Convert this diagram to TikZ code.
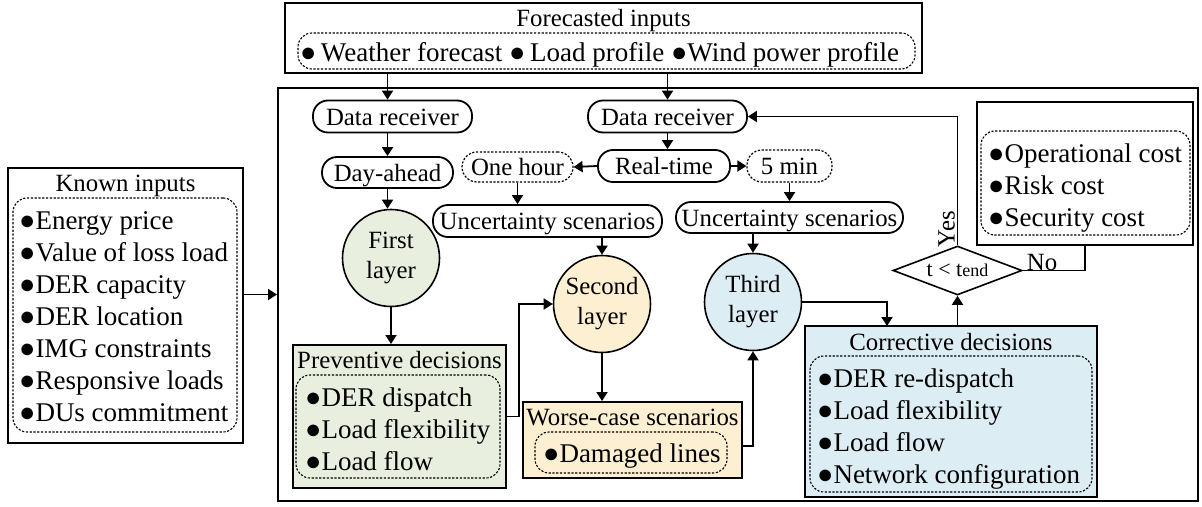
\documentclass[tikz,border=0pt]{standalone}
\usepackage{fontspec}
\setmainfont{Liberation Serif}
\usetikzlibrary{arrows.meta,shapes.geometric,calc}

\definecolor{greenfill}{RGB}{233,239,223}
\definecolor{yellowfill}{RGB}{253,240,210}
\definecolor{bluefill}{RGB}{220,237,244}

\tikzset{
  lbl/.style={font=\fontsize{24.8}{30}\selectfont, inner sep=0pt, text height=17pt, text depth=0pt},
  itm/.style={font=\fontsize{27}{32}\selectfont, inner sep=0pt, anchor=west, text height=18.5pt, text depth=0pt},
  frame/.style 2 args={draw, line width=2pt, rectangle, minimum width=#1, minimum height=#2, inner sep=0pt},
  dotbox/.style 2 args={draw, line width=1.1pt, dash pattern=on 2.2pt off 1.6pt, rounded corners=14pt,
    rectangle, minimum width=#1, minimum height=#2, inner sep=0pt},
  pill/.style={draw, line width=1.8pt, rectangle, rounded corners=15pt, minimum height=32pt, inner sep=0pt,
    font=\fontsize{24.8}{30}\selectfont, text height=17pt, text depth=0pt},
  dpill/.style={pill, line width=1.2pt, dash pattern=on 2.2pt off 1.6pt},
  layer/.style={circle, draw, line width=1.6pt, minimum size=97pt, inner sep=0pt, align=center,
    font=\fontsize{24.8}{30}\selectfont},
  arr/.style={line width=1.8pt, -{Triangle[length=9pt,width=11pt]}},
  link/.style={line width=1.8pt},
}

\begin{document}
\begin{tikzpicture}[x=1pt,y=-1pt]
\useasboundingbox (0,0) rectangle (1202,506);
\fill[white] (0,0) rectangle (1202,506);

% ---------- forecasted inputs ----------
\node[frame={637pt}{70pt}] (fc) at (603.5,38) {};
\node[lbl] (fctitle) at (603.5,18) {Forecasted inputs};
\node[dotbox={617pt}{36pt}] (fclist) at (606.5,51) {};
\node[itm] (fcitems) at (300,52) {●\,Weather forecast ●\,Load profile ●Wind power profile};

% ---------- main frame ----------
\node[frame={920pt}{413pt}] (main) at (738,294.5) {};

% ---------- known inputs ----------
\node[frame={235pt}{275pt}] (known) at (125.5,305.5) {};
\node[lbl] (knowntitle) at (125.5,183) {Known inputs};
\node[dotbox={224pt}{234pt}] (knownlist) at (125,315) {};
\foreach \t [count=\i from 0] in {Energy price, Value of loss load, DER capacity, DER location,
    IMG constraints, Responsive loads, DUs commitment}
  \node[itm] (known-\i) at (19,220+32*\i) {●\t};

% ---------- cost box ----------
\node[frame={216pt}{143pt}] (cost) at (1085,173.5) {};
\node[dotbox={209pt}{104pt}] (costlist) at (1085.5,183) {};
\foreach \t [count=\i from 0] in {Operational cost, Risk cost, Security cost}
  \node[itm] (cost-\i) at (988,153+32*\i) {●\t};

% ---------- receivers and horizons ----------
\node[pill, minimum width=159pt] (dr1) at (392.5,116.5) {Data receiver};
\node[pill, minimum width=159pt] (dr2) at (667.5,116.5) {Data receiver};
\node[pill, minimum width=131pt, minimum height=31pt] (da) at (387.5,172.5) {Day-ahead};
\node[pill, minimum width=132pt] (rt) at (664,166) {Real-time};
\node[dpill, minimum width=111pt, minimum height=30pt] (oh) at (517.5,167) {One hour};
\node[dpill, minimum width=85pt] (fm) at (789.5,166) {5 min};
\node[pill, minimum width=229pt] (unc1) at (547.5,221) {Uncertainty scenarios};
\node[pill, minimum width=227pt, minimum height=31pt] (unc2) at (789.5,217.5) {Uncertainty scenarios};

% ---------- layers ----------
\node[layer, fill=greenfill] (first) at (391,258) {First\\layer};
\node[layer, fill=yellowfill] (second) at (602,304) {Second\\layer};
\node[layer, fill=bluefill] (third) at (753,302) {Third\\layer};

% ---------- preventive decisions ----------
\node[frame={213pt}{143pt}, fill=greenfill] (prev) at (399.5,416.5) {};
\node[lbl] (prevtitle) at (399.5,360) {Preventive decisions};
\node[dotbox={204pt}{103pt}] (prevlist) at (398,426.5) {};
\foreach \t [count=\i from 0] in {DER dispatch, Load flexibility, Load flow}
  \node[itm] (prev-\i) at (305,397+32*\i) {●\t};

% ---------- worse-case scenarios ----------
\node[frame={219pt}{76pt}, fill=yellowfill] (worse) at (632.5,440) {};
\node[lbl] (worsetitle) at (632.5,417) {Worse-case scenarios};
\node[dotbox={192pt}{41pt}] (worselist) at (631,452.5) {};
\node[itm] (worse-0) at (543,453) {●Damaged lines};

% ---------- corrective decisions ----------
\node[frame={292pt}{171pt}, fill=bluefill] (corr) at (951,411.5) {};
\node[lbl] (corrtitle) at (951,342) {Corrective decisions};
\node[dotbox={282pt}{136pt}] (corrlist) at (951,424) {};
\foreach \t [count=\i from 0] in {DER re-dispatch, Load flexibility, Load flow, Network configuration}
  \node[itm] (corr-\i) at (817,378+32*\i) {●\t};

% ---------- stopping test ----------
\node[diamond, draw, line width=1.6pt, fill=white, minimum width=129pt, minimum height=49pt,
  inner sep=0pt, aspect=2.6, font=\fontsize{22}{22}\selectfont] (dia) at (957.5,270.5)
  {t < t{\fontsize{18}{18}\selectfont end}};
\node[lbl, rotate=90] (yes) at (946,229) {Yes};
\node[lbl] (no) at (1042,262) {No};
\coordinate (cin) at (887,326);

% ---------- connectors ----------
\draw[arr] (fc.south -| da) -- (da |- dr1.north);
\draw[arr] (fc.south -| dr2) -- (dr2.north);
\draw[arr] (dr1.south -| da) -- (da.north);
\draw[arr] (da.south) -- (da.south |- first.north);
\draw[arr] (first.south) -- (first.south |- prev.north);
\draw[arr] (prev.east) -- ++(12,0) |- (second.west);
\draw[arr] (second.north |- unc1.south) -- (second.north);
\draw[arr] (second.south) -- (second.south |- worse.north);
\draw[arr] ([yshift=-6pt]worse.east) -| (third.south);
\draw[arr] (dr2.south) -- (dr2.south |- rt.north);
\draw[arr] (rt.west) -- (oh.east);
\draw[arr] (rt.east) -- (fm.west);
\draw[arr] (oh.south) -- (oh.south |- unc1.north);
\draw[arr] (fm.south) -- (fm.south |- unc2.north);
\draw[arr] (third.north |- unc2.south) -- (third.north);
\draw[arr] (third.east) -| (cin);
\draw[arr] (dia.south |- corr.north) -- (dia.south);
\draw[arr] (dia.north) |- (dr2.east);
\draw[link] (dia.east) -| (cost.south);
\draw[arr] (known.east |- main.west) -- (main.west);
\end{tikzpicture}
\end{document}
